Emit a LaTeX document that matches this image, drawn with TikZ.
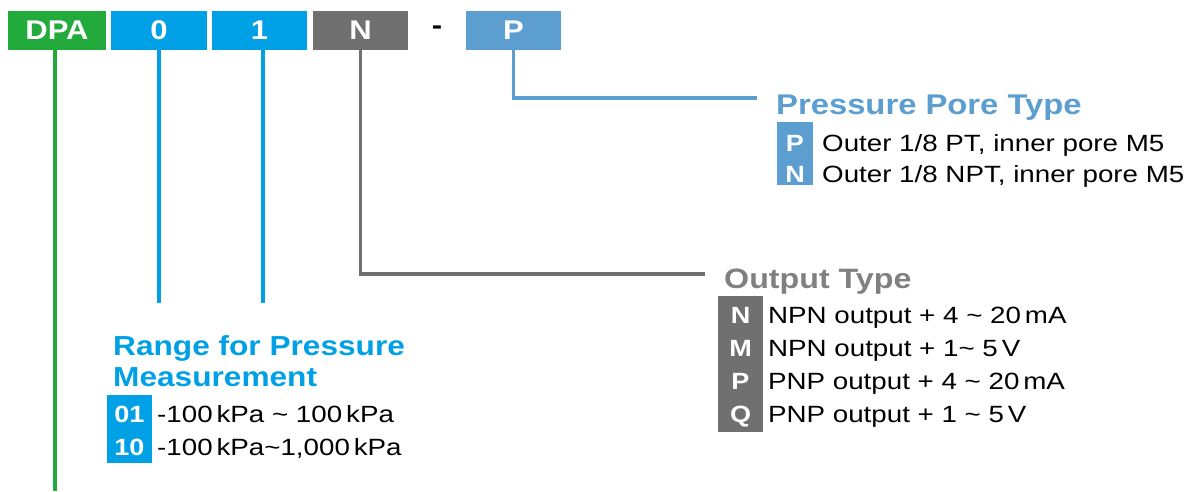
\documentclass[tikz,border=0pt]{standalone}
\usepackage{fontspec}
\setmainfont{Liberation Sans}
\newfontfamily\bodyf[FakeStretch=1.18]{Liberation Sans}
\newfontfamily\headf[FakeStretch=1.15]{Liberation Sans}
\definecolor{cgreen}{RGB}{34,170,60}
\definecolor{cblue}{RGB}{0,160,230}
\definecolor{cgray}{RGB}{112,112,112}
\definecolor{clblue}{RGB}{92,158,208}
\definecolor{tgray}{RGB}{128,128,128}
\begin{document}
\begin{tikzpicture}[x=1pt,y=-1pt,
  codebox/.style={fill=#1, minimum height=39pt, inner sep=0pt, text=white,
    font=\headf\bfseries\fontsize{27}{27}\selectfont},
  conn/.style={draw=#1, line width=3.3pt},
  badge/.style={fill=#1, inner sep=0pt},
  badgetxt/.style={anchor=base, inner sep=0pt, text=white,
    font=\headf\bfseries\fontsize{23.5}{23.5}\selectfont},
  rowtxt/.style={anchor=base west, inner sep=0pt, text=black,
    font=\bodyf\fontsize{23.5}{23.5}\selectfont},
  headtxt/.style={anchor=base west, inner sep=0pt, text=#1, align=left,
    font=\headf\bfseries\fontsize{28}{31}\selectfont}
]
\useasboundingbox[fill=white] (0,0) rectangle (1188,491);

% code boxes
\node[codebox=cgreen, minimum width=98pt] (bdpa) at (57,30.5) {DPA};
\node[codebox=cblue, minimum width=96pt] (b0) at (159,30.5) {0};
\node[codebox=cblue, minimum width=95pt] (b1) at (259.5,30.5) {1};
\node[codebox=cgray, minimum width=95pt] (bn) at (360.5,30.5) {N};
\node[inner sep=0pt, font=\headf\bfseries\fontsize{27}{27}\selectfont] (dash) at (437,30.5) {-};
\node[codebox=clblue, minimum width=95pt] (bp) at (513.5,30.5) {P};

% free ends
\coordinate (gend) at (55,491);
\coordinate (b0end) at (159,303);
\coordinate (b1top) at (263,50);
\coordinate (b1end) at (263,303);
\coordinate (nend) at (705,274);
\coordinate (pend) at (757,98);

% connectors
\draw[conn=cgreen] (bdpa.south -| gend) -- (gend);
\draw[conn=cblue] (b0.south) -- (b0end);
\draw[conn=cblue] (b1top) -- (b1end);
\draw[conn=cgray] (bn.south) |- (nend);
\draw[conn=clblue] (bp.south) |- (pend);

% Pressure Pore Type
\node[headtxt=clblue, font=\headf\bfseries\fontsize{28.5}{31}\selectfont] (ppt) at (776,114) {Pressure Pore Type};
\node[badge=clblue, minimum width=36pt, minimum height=63pt] (ppb) at (795,153.5) {};
\node[badgetxt] (ppP) at (795,151) {P};
\node[badgetxt] (ppN) at (795,182) {N};
\node[rowtxt] (ppr1) at (822,151) {Outer 1/8 PT, inner pore M5};
\node[rowtxt] (ppr2) at (822,182) {Outer 1/8 NPT, inner pore M5};

% Output Type
\node[headtxt=tgray] (ot) at (724,288) {Output Type};
\node[badge=cgray, minimum width=45pt, minimum height=136pt] (otb) at (740.5,364) {};
\node[badgetxt] (otN) at (740.5,323) {N};
\node[badgetxt] (otM) at (740.5,356) {M};
\node[badgetxt] (otP) at (740.5,389.5) {P};
\node[badgetxt] (otQ) at (740.5,422.5) {Q};
\node[rowtxt] (otr1) at (768,323) {NPN output + 4 \textasciitilde{} 20\,mA};
\node[rowtxt] (otr2) at (768,356) {NPN output + 1\textasciitilde{} 5\,V};
\node[rowtxt] (otr3) at (768,389.5) {PNP output + 4 \textasciitilde{} 20\,mA};
\node[rowtxt] (otr4) at (768,422.5) {PNP output + 1 \textasciitilde{} 5\,V};

% Range for Pressure Measurement
\node[headtxt=cblue, font=\headf\bfseries\fontsize{27.5}{31}\selectfont] (rt) at (113,386) {Range for Pressure\\Measurement};
\node[badge=cblue, minimum width=45pt, minimum height=68pt] (rb) at (129.5,429) {};
\node[badgetxt] (r01) at (129.5,422) {01};
\node[badgetxt] (r10) at (129.5,455) {10};
\node[rowtxt] (rr1) at (157,422) {-100\,kPa \textasciitilde{} 100\,kPa};
\node[rowtxt] (rr2) at (157,455) {-100\,kPa\textasciitilde 1,000\,kPa};
\end{tikzpicture}
\end{document}
